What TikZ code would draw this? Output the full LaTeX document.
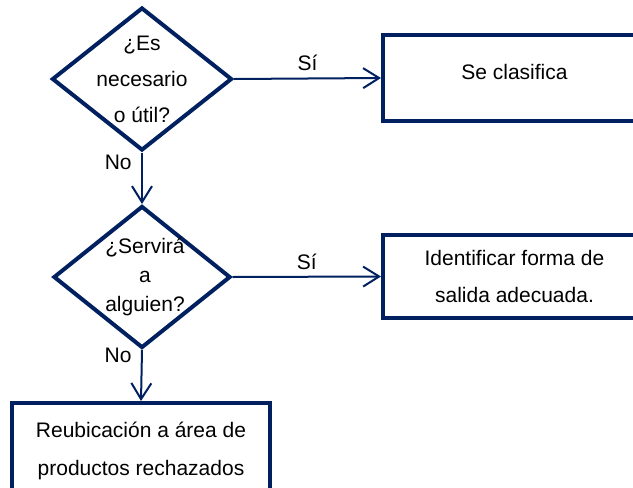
\documentclass[tikz,border=0pt]{standalone}
\usepackage{fontspec}
\setmainfont{Liberation Sans}
\usepackage{tikz}
\usetikzlibrary{shapes.geometric,arrows.meta,positioning}

\definecolor{navy}{RGB}{0,32,96}

\tikzset{
    decision/.style={diamond, draw=navy, line width=4pt, inner sep=0pt, minimum width=180pt, minimum height=143pt},
    process/.style={rectangle, draw=navy, line width=4pt, align=center, minimum width=263pt},
    flow/.style={draw=navy, line width=2pt, -{Straight Barb[length=16pt,width=20pt]}},
    txt/.style={font=\fontsize{21}{36}\selectfont}
}

\begin{document}
\begin{tikzpicture}[x=1pt,y=-1pt]
    \clip (0,0) rectangle (633,488);

    % Decisions
    \node[decision, label={[txt,align=center]center:{¿Es\\necesario\\o útil?}}] (util) at (142,79) {};
    \node[decision, minimum width=177pt, minimum height=142pt,
          label={[font=\fontsize{21}{29}\selectfont,align=center,xshift=3pt]center:{¿Servirá\\a\\alguien?}}] (servira) at (142,277) {};

    % Actions
    \node[process, txt, minimum height=86pt, text depth=12pt] (clasifica) at (514.5,78) {Se clasifica};
    \node[process, font=\fontsize{21}{37}\selectfont, minimum height=83pt] (salida) at (514.5,276.5) {Identificar forma de\\salida adecuada.};
    \node[process, font=\fontsize{21}{38}\selectfont, minimum width=258pt, minimum height=96pt] (reubica) at (141,451) {Reubicación a área de\\productos rechazados};

    % Connectors
    \draw[flow] (util.east) -- node[txt, above=3pt] {Sí} (clasifica.west);
    \draw[flow] (util.south) -- node[txt, left=6pt, pos=0.2] {No} (servira.north);
    \draw[flow] (servira.east) -- node[txt, above=3pt] {Sí} (salida.west);
    \draw[flow] (servira.south) -- node[txt, left=6pt, pos=0.1] {No} (reubica.north);
\end{tikzpicture}
\end{document}
